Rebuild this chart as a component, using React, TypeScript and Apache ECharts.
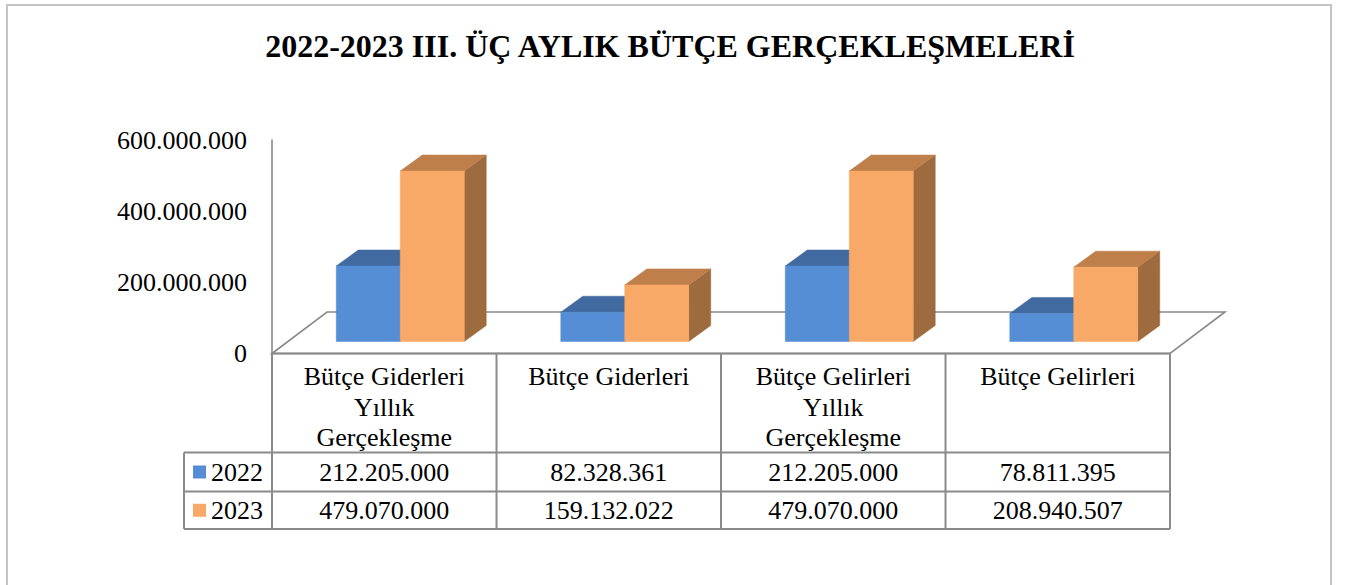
import React, { useEffect, useRef } from 'react';
import * as echarts from 'echarts';

// ---- data ----
const chartTitle = '2022-2023 III. ÜÇ AYLIK BÜTÇE GERÇEKLEŞMELERİ';
const categories = [
  'Bütçe Giderleri\nYıllık\nGerçekleşme',
  'Bütçe Giderleri',
  'Bütçe Gelirleri\nYıllık\nGerçekleşme',
  'Bütçe Gelirleri',
];
const years = ['2022', '2023'];
const values2022 = [212205000, 82328361, 212205000, 78811395];
const values2023 = [479070000, 159132022, 479070000, 208940507];
const yMax = 600000000;
const yStep = 200000000;

// ---- styles / layout ----
const FONT = 'Liberation Serif';
const LINE = '#8A8A8A';
const palettes = [
  { front: '#558ED5', top: '#416AA0', side: '#36598A' },
  { front: '#F8A967', top: '#BF7F4B', side: '#9E6B3E' },
];
const G = { left: 272, right: 1170, top: 140, bottom: 353.5 };
const FLOOR_DEPTH = { dx: 55, dy: -41.5 };
const BAR_SHIFT = { dx: 16, dy: -12 };
const BAR_DEPTH = { dx: 22, dy: -16 };
const TABLE = { rows: [452.5, 491.5, 529], legendLeft: 184 };

const fmt = (n: number) => String(n).replace(/\B(?=(\d{3})+(?!\d))/g, '.');

export default function App() {
  const ref = useRef<HTMLDivElement>(null);

  useEffect(() => {
    if (!ref.current) return;
    const chart = echarts.init(ref.current, null, { renderer: 'svg' });
    const allValues = [values2022, values2023];
    const colW = (G.right - G.left) / categories.length;

    const graphics: any[] = [];
    graphics.push({
      type: 'rect', z: 0,
      shape: { x: 7, y: 5, width: 1324, height: 620 },
      style: { fill: 'none', stroke: '#C4C4C4', lineWidth: 2 },
    });
    graphics.push({
      type: 'text', z: 5, x: 670, y: 46,
      style: {
        text: chartTitle, fill: '#000', fontSize: 32, fontWeight: 'bold', fontFamily: FONT,
        align: 'center', verticalAlign: 'middle',
      },
    });
    graphics.push({
      type: 'polygon', z: 1,
      shape: {
        points: [
          [G.left, G.bottom],
          [G.left + FLOOR_DEPTH.dx, G.bottom + FLOOR_DEPTH.dy],
          [G.right + FLOOR_DEPTH.dx, G.bottom + FLOOR_DEPTH.dy],
          [G.right, G.bottom],
        ],
      },
      style: { fill: 'none', stroke: LINE, lineWidth: 1.6 },
    });
    graphics.push({
      type: 'line', z: 1,
      shape: { x1: G.left, y1: G.bottom, x2: G.right, y2: G.bottom },
      style: { stroke: LINE, lineWidth: 2 },
    });
    TABLE.rows.forEach((y) => {
      graphics.push({
        type: 'line', z: 1,
        shape: { x1: TABLE.legendLeft, y1: y, x2: G.right, y2: y },
        style: { stroke: LINE, lineWidth: 2 },
      });
    });
    for (let i = 0; i <= categories.length; i++) {
      const x = G.left + i * colW;
      graphics.push({
        type: 'line', z: 1,
        shape: { x1: x, y1: G.bottom, x2: x, y2: TABLE.rows[2] },
        style: { stroke: LINE, lineWidth: 2 },
      });
    }
    graphics.push({
      type: 'line', z: 1,
      shape: { x1: TABLE.legendLeft, y1: TABLE.rows[0], x2: TABLE.legendLeft, y2: TABLE.rows[2] },
      style: { stroke: LINE, lineWidth: 2 },
    });
    years.forEach((yr, r) => {
      const cy = (TABLE.rows[r] + TABLE.rows[r + 1]) / 2;
      graphics.push({
        type: 'rect', z: 3,
        shape: { x: 193, y: cy - 6.5, width: 13, height: 13 },
        style: { fill: palettes[r].front },
      });
      graphics.push({
        type: 'text', z: 3, x: 211, y: cy,
        style: {
          text: yr, fill: '#000', fontSize: 26, fontWeight: 'normal', fontFamily: FONT,
          align: 'left', verticalAlign: 'middle',
        },
      });
      allValues[r].forEach((v, c) => {
        graphics.push({
          type: 'text', z: 3, x: G.left + (c + 0.5) * colW, y: cy,
          style: {
            text: fmt(v), fill: '#000', fontSize: 26, fontWeight: 'normal', fontFamily: FONT,
            align: 'center', verticalAlign: 'middle',
          },
        });
      });
    });

    const makeSeries = (name: string, data: number[], sIdx: number) => ({
      name,
      type: 'custom',
      z: 2,
      data: data.map((v, i) => [i, v]),
      renderItem: (params: any, api: any) => {
        const idx = api.value(0);
        const v = api.value(1);
        const base = api.coord([idx, 0]);
        const topP = api.coord([idx, v]);
        const band = api.size([1, 0])[0];
        const bw = band * 0.285;
        const cx = base[0] + BAR_SHIFT.dx;
        const x0 = sIdx === 0 ? cx - bw : cx;
        const x1 = x0 + bw;
        const yb = base[1] + BAR_SHIFT.dy;
        const yt = topP[1] + BAR_SHIFT.dy;
        const p = palettes[sIdx];
        const { dx, dy } = BAR_DEPTH;
        return {
          type: 'group',
          children: [
            {
              type: 'polygon',
              shape: { points: [[x1, yt], [x1 + dx, yt + dy], [x1 + dx, yb + dy], [x1, yb]] },
              style: { fill: p.side, stroke: p.side, lineWidth: 0.5 },
            },
            {
              type: 'polygon',
              shape: { points: [[x0, yt], [x1, yt], [x1 + dx, yt + dy], [x0 + dx, yt + dy]] },
              style: { fill: p.top, stroke: p.top, lineWidth: 0.5 },
            },
            {
              type: 'rect',
              shape: { x: x0, y: yt, width: bw, height: yb - yt },
              style: { fill: p.front, stroke: p.front, lineWidth: 0.5 },
            },
          ],
        };
      },
    });

    chart.setOption({
      animation: false,
      textStyle: { fontFamily: FONT },
      grid: { left: G.left, right: 1349 - G.right, top: G.top, bottom: 585 - G.bottom, containLabel: false },
      xAxis: {
        type: 'category',
        data: categories,
        axisLine: { show: false },
        axisTick: { show: false },
        splitLine: { show: false },
        axisLabel: {
          interval: 0, margin: 8, fontSize: 26, lineHeight: 30.5, fontFamily: FONT,
          color: '#000', verticalAlign: 'top', align: 'center',
        },
      },
      yAxis: {
        type: 'value',
        min: 0,
        max: yMax,
        interval: yStep,
        axisLine: { show: true, lineStyle: { color: LINE, width: 1.6 } },
        axisTick: { show: false },
        splitLine: { show: false },
        axisLabel: { formatter: (v: number) => fmt(v), fontSize: 26, fontFamily: FONT, color: '#000', margin: 25 },
      },
      series: [makeSeries(years[0], values2022, 0), makeSeries(years[1], values2023, 1)],
      graphic: graphics,
    });

    return () => chart.dispose();
  }, []);

  return (
    <div
      ref={ref}
      style={{ position: 'fixed', left: 0, top: 0, width: 1349, height: 585, background: '#fff' }}
    />
  );
}
